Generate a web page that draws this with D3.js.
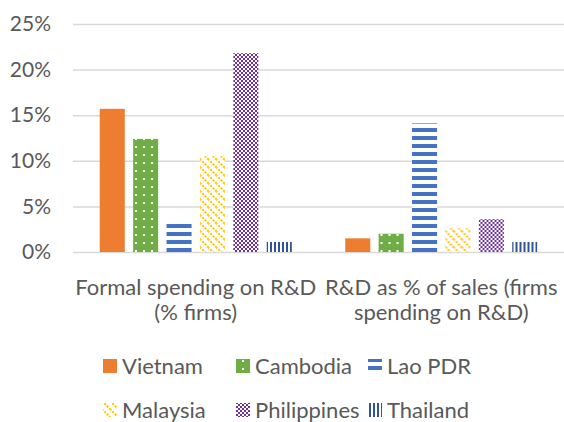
<!DOCTYPE html>
<html>
<head>
<meta charset="utf-8">
<script src="https://cdn.jsdelivr.net/npm/d3@7"></script>
<style>
  body { margin: 0; background: #fff; }
  text { font-family: Lato, "Open Sans", sans-serif; fill: #595959; }
</style>
</head>
<body>
<div id="chart"></div>
<script>
// data
var categories = ["Formal spending on R&D|(% firms)", "R&D as % of sales (firms|spending on R&D)"];
var countries = ["Vietnam", "Cambodia", "Lao PDR", "Malaysia", "Philippines", "Thailand"];
var vietnam = [0.157, 0.015];
var cambodia = [0.124, 0.020];
var lao = [0.034, 0.141];
var malaysia = [0.105, 0.026];
var philippines = [0.218, 0.036];
var thailand = [0.011, 0.011];
var yTicks = [0, 0.05, 0.10, 0.15, 0.20, 0.25];

var seriesValues = [vietnam, cambodia, lao, malaysia, philippines, thailand];

var width = 564, height = 422;
var margin = {top: 24, right: 0, bottom: 170, left: 73};

var svg = d3.select("#chart").append("svg")
  .attr("width", width)
  .attr("height", height);

// patterns
var defs = svg.append("defs");

var p = defs.append("pattern").attr("id", "p-camb").attr("patternUnits", "userSpaceOnUse")
  .attr("width", 8).attr("height", 8);
p.append("rect").attr("width", 8).attr("height", 8).attr("fill", "#70AD47");
p.append("rect").attr("x", 6).attr("y", 2).attr("width", 2).attr("height", 2).attr("fill", "#fff");

p = defs.append("pattern").attr("id", "p-lao").attr("patternUnits", "userSpaceOnUse")
  .attr("width", 8).attr("height", 8);
p.append("rect").attr("width", 8).attr("height", 8).attr("fill", "#fff");
p.append("rect").attr("y", 0).attr("width", 8).attr("height", 4).attr("fill", "#4472C4");

p = defs.append("pattern").attr("id", "p-mal").attr("patternUnits", "userSpaceOnUse")
  .attr("width", 8).attr("height", 8);
p.append("rect").attr("width", 8).attr("height", 8).attr("fill", "#fff");
p.append("path").attr("d", "M-1,-1 L9,9 M-5,3 L1,9 M3,-5 L9,1").attr("stroke", "#FFC000")
  .attr("stroke-width", 2).attr("stroke-dasharray", "2,1.4");

p = defs.append("pattern").attr("id", "p-phil").attr("patternUnits", "userSpaceOnUse")
  .attr("width", 4).attr("height", 4);
p.append("rect").attr("width", 4).attr("height", 4).attr("fill", "#fff");
p.append("rect").attr("x", 0).attr("y", 0).attr("width", 2).attr("height", 2).attr("fill", "#7030A0");
p.append("rect").attr("x", 2).attr("y", 2).attr("width", 2).attr("height", 2).attr("fill", "#7030A0");

p = defs.append("pattern").attr("id", "p-thai").attr("patternUnits", "userSpaceOnUse")
  .attr("width", 4).attr("height", 4);
p.append("rect").attr("width", 4).attr("height", 4).attr("fill", "#fff");
p.append("rect").attr("x", 1).attr("width", 2).attr("height", 4).attr("fill", "#2F5597");

var fills = ["#ED7D31", "url(#p-camb)", "url(#p-lao)", "url(#p-mal)", "url(#p-phil)", "url(#p-thai)"];

var g = svg.append("g").attr("transform", "translate(" + margin.left + "," + margin.top + ")");
var w = width - margin.left - margin.right;
var h = height - margin.top - margin.bottom;

var x0 = d3.scaleBand().domain(categories).range([0, w]);
var x1 = d3.scaleBand().domain(countries).range([0, x0.bandwidth()]).paddingInner(0.25).paddingOuter(0.8);
var y = d3.scaleLinear().domain([0, 0.25]).range([h, 0]);

// gridlines
g.append("g")
  .call(d3.axisLeft(y).tickValues(yTicks).tickSize(-w).tickFormat(""))
  .call(function(a) { a.select(".domain").remove(); })
  .selectAll("line").attr("stroke", "#d9d9d9").attr("stroke-width", 1.5);

// y labels
g.append("g")
  .call(d3.axisLeft(y).tickValues(yTicks).tickSize(0).tickPadding(22).tickFormat(d3.format(".0%")))
  .call(function(a) { a.select(".domain").remove(); })
  .selectAll("text").style("font-size", "21px").attr("fill", "#595959");

// bars
var groups = g.selectAll(".grp").data(categories).enter().append("g")
  .attr("transform", function(d) { return "translate(" + x0(d) + ",0)"; });

groups.selectAll("rect")
  .data(function(d, i) { return countries.map(function(c, j) { return {c: c, v: seriesValues[j][i], j: j}; }); })
  .enter().append("rect")
  .attr("x", function(d) { return x1(d.c); })
  .attr("y", function(d) { return y(d.v); })
  .attr("width", x1.bandwidth())
  .attr("height", function(d) { return h - y(d.v); })
  .attr("fill", function(d) { return fills[d.j]; });

// category labels
groups.append("text")
  .attr("x", x0.bandwidth() / 2)
  .attr("text-anchor", "middle")
  .style("font-size", "22px")
  .selectAll("tspan")
  .data(function(d) { return d.split("|"); })
  .enter().append("tspan")
  .attr("x", x0.bandwidth() / 2)
  .attr("y", function(d, i) { return h + 43 + i * 25; })
  .text(function(d) { return d; });

// legend
var legX = [103, 236, 368];
var legY = [366, 410];
var leg = svg.selectAll(".leg").data(countries).enter().append("g")
  .attr("transform", function(d, i) { return "translate(" + legX[i % 3] + "," + legY[Math.floor(i / 3)] + ")"; });
leg.append("rect").attr("x", 0).attr("y", -7).attr("width", 14).attr("height", 14)
  .attr("fill", function(d, i) { return fills[i]; });
leg.append("text").attr("x", 19).attr("y", 0).attr("dy", "0.35em")
  .style("font-size", "22px")
  .text(function(d) { return d; });
</script>
</body>
</html>
